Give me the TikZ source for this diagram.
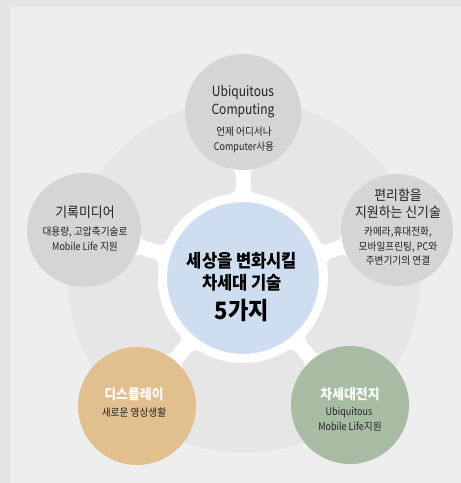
\documentclass[tikz,border=0pt]{standalone}
\usepackage{fontspec}
\setmainfont{Noto Sans CJK KR}[FakeStretch=0.92]
\newfontfamily\lat{Noto Sans CJK KR}[FakeStretch=0.86]
\usetikzlibrary{calc}
\pgfdeclarelayer{bgA}
\pgfdeclarelayer{bgB}
\pgfsetlayers{bgA,bgB,main}
\definecolor{outerbg}{HTML}{E4E4E4}
\definecolor{panel}{HTML}{EEEEEE}
\definecolor{bigc}{HTML}{E6E6E6}
\definecolor{greyc}{HTML}{D5D5D5}
\definecolor{bluec}{HTML}{CFDDF0}
\definecolor{orangec}{HTML}{E2BF8F}
\definecolor{greenc}{HTML}{A8BCA4}
\definecolor{txt}{HTML}{222222}
\tikzset{
  circ/.style={circle, inner sep=0pt},
  conn/.style={draw=white, line width=15pt},
  ttl/.style={inner sep=0pt, text=txt, font=\fontsize{14}{16}\selectfont},
  sub/.style={inner sep=0pt, text=txt, font=\fontsize{10.5}{12}\selectfont},
  ctxt/.style={inner sep=0pt, text=black, font=\fontsize{18}{21}\selectfont\bfseries},
  wttl/.style={inner sep=0pt, text=white, font=\fontsize{14}{16}\selectfont\bfseries},
}
\begin{document}
\begin{tikzpicture}[x=1pt,y=-1pt]
\useasboundingbox (0,0) rectangle (461,483);
% outer circles and centre
\node[circ, fill=greyc, minimum size=116] (top) at (243,112) {};
\node[circ, fill=greyc, minimum size=114] (left) at (84,230) {};
\node[circ, fill=greyc, minimum size=112] (right) at (397,230) {};
\node[circ, fill=orangec, minimum size=118] (bl) at (137,406) {};
\node[circ, fill=greenc, minimum size=118] (br) at (350,405) {};
\node[circ, fill=bluec, draw=white, line width=9pt, minimum size=161] (ctr) at (243,278) {};
\begin{pgfonlayer}{bgA}
  \fill[outerbg] (0,0) rectangle (461,483);
  \fill[panel] (10,7) rectangle (461,483);
  \fill[bigc] (244,276) circle (177);
\end{pgfonlayer}
\begin{pgfonlayer}{bgB}
\foreach \n/\a/\D/\r in {top/90/166/58, left/163.2/166.1/57, right/17.3/161.3/56, bl/230.4/166.2/59, br/310.1/166.1/59}{
  \draw[conn] (ctr.center) -- (\n.center);
  \pgfmathsetmacro\xo{\D-sqrt((\r+7)^2-14.5^2)}
  \pgfmathsetmacro\xe{\D-\r+4}
  \begin{scope}[shift={(ctr.center)}, rotate=\a]
    \fill[white] (80,-14.5) rectangle (90.85,14.5);
    \fill[white] (\xo,-14.5) rectangle (\xe,14.5);
    \fill[bigc] (90.85,14.5) circle (7.1) (90.85,-14.5) circle (7.1)
                (\xo,14.5) circle (7.1) (\xo,-14.5) circle (7.1);
  \end{scope}
}
\end{pgfonlayer}
% texts
\node[ttl] (t1) at (243,93) {\lat Ubiquitous};
\node[ttl] (t2) at (243,111) {\lat Computing};
\node[sub] (t3) at (244,132) {언제 어디서나};
\node[sub] (t4) at (244,147) {{\lat Computer}사용};
\node[ttl] (t5) at (85,212) {기록미디어};
\node[sub] (t6) at (85,232) {대용량, 고압축기술로};
\node[sub] (t7) at (85,247) {{\lat Mobile Life} 지원};
\node[ttl] (t8) at (398,195) {편리함을};
\node[ttl] (t9) at (398,212) {지원하는 신기술};
\node[sub] (t10) at (398,232) {카메라,휴대전화,};
\node[sub] (t11) at (398,247) {모바일프린팅, {\lat PC}와};
\node[sub] (t12) at (398,261) {주변기기의 연결};
\node[ctxt] (t13) at (242,261) {세상을 변화시킬};
\node[ctxt] (t14) at (242,283) {차세대 기술};
\node[ctxt, font=\fontsize{24}{28}\selectfont\bfseries] (t15) at (242,310) {5가지};
\node[wttl] (t16) at (134,394) {디스플레이};
\node[sub] (t17) at (134,413) {새로운 영상생활};
\node[wttl] (t18) at (350,394) {차세대전지};
\node[sub] (t19) at (349,413) {\lat Ubiquitous};
\node[sub] (t20) at (350,427) {{\lat Mobile Life}지원};
\end{tikzpicture}
\end{document}
